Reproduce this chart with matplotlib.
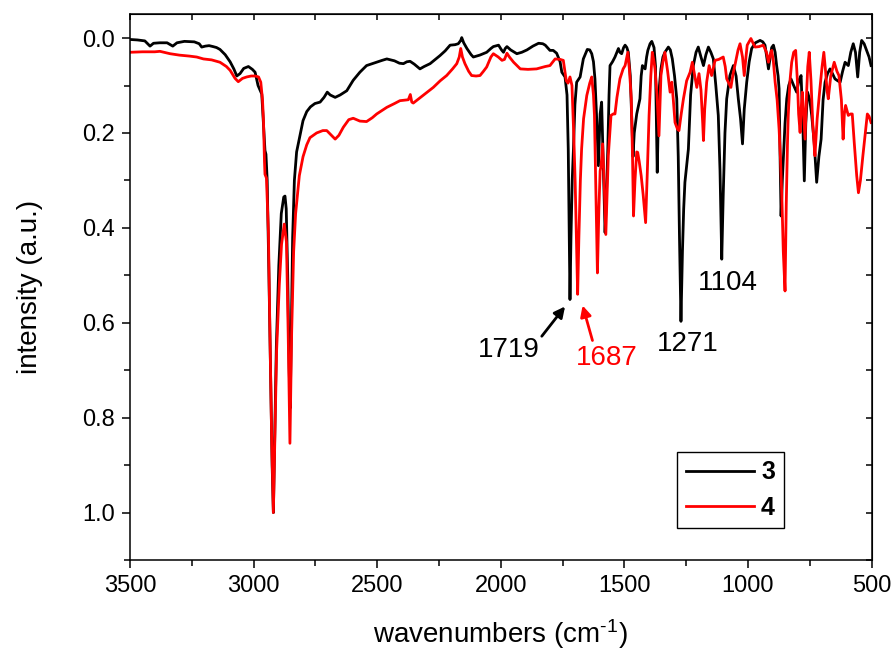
import matplotlib
matplotlib.use("Agg")
import matplotlib.pyplot as plt
from matplotlib.ticker import MultipleLocator

plt.rcParams['font.family'] = ['Liberation Sans', 'DejaVu Sans']
plt.rcParams['mathtext.fontset'] = 'custom'
plt.rcParams['mathtext.rm'] = 'Liberation Sans'
plt.rcParams['mathtext.default'] = 'regular'

# spectrum of compound 3 (black)
wn_3 = [3500, 3470, 3440, 3419, 3405, 3380, 3350, 3327, 3310, 3280, 3240, 3220, 3210, 3195,
        3180, 3164, 3150, 3136, 3115, 3095, 3080, 3068, 3055, 3040, 3021, 3005, 2994, 2982,
        2967, 2958, 2954, 2950, 2945, 2938, 2930, 2925, 2920, 2915, 2908, 2898, 2888, 2878,
        2873, 2868, 2862, 2856, 2852, 2847, 2842, 2835, 2826, 2810, 2800, 2785, 2770, 2752,
        2731, 2715, 2702, 2690, 2670, 2650, 2623, 2610, 2597, 2570, 2543, 2520, 2502, 2480,
        2461, 2430, 2410, 2394, 2380, 2367, 2350, 2327, 2310, 2286, 2265, 2246, 2225, 2205,
        2185, 2172, 2162, 2158, 2150, 2137, 2120, 2111, 2085, 2057, 2040, 2030, 2009, 1997,
        1989, 1982, 1975, 1960, 1935, 1915, 1894, 1870, 1847, 1830, 1820, 1801, 1788, 1774,
        1760, 1753, 1740, 1732, 1727, 1723, 1720, 1716, 1711, 1706, 1700, 1693, 1679, 1666,
        1650, 1640, 1632, 1625, 1619, 1612, 1605, 1598, 1592, 1586, 1578, 1572, 1567, 1562,
        1558, 1548, 1538, 1530, 1524, 1518, 1511, 1503, 1497, 1490, 1484, 1476, 1470, 1465,
        1460, 1450, 1442, 1437, 1432, 1427, 1416, 1410, 1405, 1396, 1389, 1380, 1374, 1370,
        1367, 1363, 1358, 1352, 1344, 1336, 1322, 1314, 1306, 1297, 1288, 1282, 1277, 1271,
        1265, 1260, 1255, 1248, 1241, 1232, 1221, 1210, 1201, 1190, 1180, 1170, 1160, 1150,
        1140, 1130, 1120, 1113, 1106, 1100, 1093, 1086, 1073, 1059, 1048, 1039, 1030, 1022,
        1015, 1005, 995, 985, 970, 951, 940, 931, 924, 917, 910, 904, 897, 890, 884, 878,
        874, 870, 866, 861, 857, 850, 843, 835, 826, 815, 803, 794, 785, 778, 772, 766, 759,
        750, 742, 732, 722, 713, 704, 696, 688, 678, 668, 658, 648, 637, 627, 617, 607, 600,
        594, 584, 574, 565, 556, 548, 540, 530, 520, 510, 502]
int_3 = [0.003, 0.004, 0.006, 0.017, 0.011, 0.010, 0.010, 0.017, 0.010, 0.007, 0.008, 0.012, 0.019, 0.017,
         0.016, 0.018, 0.020, 0.024, 0.035, 0.050, 0.065, 0.080, 0.075, 0.064, 0.060, 0.066, 0.072, 0.100,
         0.118, 0.200, 0.237, 0.245, 0.300, 0.500, 0.750, 0.900, 1.000, 0.850, 0.650, 0.480, 0.370, 0.335,
         0.333, 0.360, 0.500, 0.700, 0.780, 0.600, 0.420, 0.300, 0.240, 0.200, 0.174, 0.155, 0.145, 0.138,
         0.135, 0.125, 0.114, 0.120, 0.125, 0.120, 0.111, 0.100, 0.089, 0.072, 0.058, 0.054, 0.051, 0.047,
         0.044, 0.048, 0.053, 0.054, 0.050, 0.049, 0.055, 0.065, 0.060, 0.054, 0.045, 0.037, 0.027, 0.015,
         0.014, 0.012, 0.005, -0.001, 0.010, 0.022, 0.035, 0.040, 0.036, 0.030, 0.022, 0.018, 0.015, 0.025,
         0.030, 0.022, 0.018, 0.025, 0.033, 0.030, 0.025, 0.017, 0.011, 0.012, 0.015, 0.026, 0.026, 0.032,
         0.050, 0.072, 0.082, 0.120, 0.234, 0.420, 0.551, 0.420, 0.300, 0.234, 0.140, 0.093, 0.082, 0.044,
         0.024, 0.025, 0.033, 0.050, 0.086, 0.170, 0.269, 0.160, 0.135, 0.250, 0.410, 0.320, 0.234, 0.120,
         0.058, 0.050, 0.040, 0.030, 0.022, 0.030, 0.033, 0.020, 0.015, 0.020, 0.030, 0.080, 0.170, 0.250,
         0.200, 0.160, 0.140, 0.128, 0.080, 0.058, 0.065, 0.040, 0.026, 0.012, 0.007, 0.020, 0.060, 0.180,
         0.283, 0.180, 0.100, 0.065, 0.040, 0.030, 0.019, 0.025, 0.044, 0.080, 0.128, 0.250, 0.420, 0.597,
         0.450, 0.360, 0.304, 0.270, 0.234, 0.120, 0.058, 0.030, 0.019, 0.040, 0.058, 0.035, 0.019, 0.030,
         0.044, 0.100, 0.163, 0.280, 0.466, 0.330, 0.200, 0.128, 0.079, 0.058, 0.080, 0.128, 0.170, 0.223,
         0.150, 0.093, 0.050, 0.022, 0.010, 0.005, 0.008, 0.015, 0.040, 0.065, 0.040, 0.020, 0.015, 0.030, 0.058, 0.080,
         0.107, 0.250, 0.375, 0.300, 0.255, 0.180, 0.128, 0.100, 0.086, 0.100, 0.114, 0.090, 0.079, 0.180, 0.301, 0.180, 0.114,
         0.130, 0.163, 0.220, 0.304, 0.250, 0.213, 0.130, 0.093, 0.075, 0.065, 0.075, 0.086, 0.090, 0.093, 0.070, 0.051, 0.055,
         0.058, 0.030, 0.012, 0.030, 0.082, 0.030, 0.005, 0.012, 0.026, 0.040, 0.058]

# spectrum of compound 4 (red)
wn_4 = [3500, 3450, 3400, 3379, 3338, 3300, 3260, 3230, 3203, 3170, 3136, 3110, 3095, 3075,
        3062, 3045, 3028, 3010, 2994, 2980, 2971, 2964, 2960, 2956, 2954, 2948, 2940, 2934,
        2927, 2920, 2914, 2907, 2896, 2887, 2876, 2867, 2860, 2853, 2846, 2838, 2830, 2815,
        2800, 2785, 2772, 2745, 2720, 2704, 2685, 2670, 2655, 2637, 2615, 2597, 2570, 2543,
        2520, 2502, 2461, 2430, 2408, 2374, 2366, 2360, 2354, 2327, 2300, 2273, 2245, 2219,
        2195, 2178, 2168, 2162, 2155, 2145, 2130, 2118, 2100, 2084, 2070, 2057, 2040, 2030,
        2010, 1995, 1985, 1975, 1965, 1948, 1921, 1890, 1855, 1820, 1801, 1780, 1760, 1747,
        1735, 1728, 1720, 1712, 1705, 1699, 1693, 1689, 1684, 1678, 1673, 1665, 1652, 1640,
        1632, 1625, 1621, 1614, 1609, 1603, 1598, 1594, 1588, 1582, 1575, 1570, 1565, 1554,
        1545, 1538, 1530, 1518, 1505, 1497, 1486, 1479, 1472, 1467, 1463, 1457, 1450, 1446,
        1440, 1432, 1424, 1414, 1407, 1400, 1393, 1387, 1380, 1376, 1368, 1360, 1356, 1352,
        1344, 1336, 1325, 1315, 1308, 1302, 1295, 1285, 1279, 1270, 1261, 1248, 1234, 1225,
        1215, 1207, 1198, 1190, 1183, 1180, 1175, 1167, 1157, 1147, 1133, 1118, 1100, 1092,
        1086, 1069, 1060, 1053, 1040, 1032, 1022, 1015, 1008, 1003, 988, 980, 971, 955, 938,
        925, 917, 910, 904, 897, 890, 882, 874, 868, 863, 857, 850, 845, 840, 837, 830, 823,
        815, 807, 800, 795, 789, 785, 780, 775, 769, 763, 758, 752, 745, 738, 733, 729, 720,
        709, 700, 693, 686, 680, 675, 665, 651, 640, 632, 622, 615, 610, 605, 594, 585, 578,
        570, 560, 553, 545, 535, 525, 517, 510, 502]
int_4 = [0.030, 0.029, 0.029, 0.028, 0.033, 0.036, 0.038, 0.040, 0.044, 0.046, 0.051, 0.060, 0.068, 0.085,
         0.092, 0.085, 0.082, 0.080, 0.080, 0.082, 0.093, 0.130, 0.174, 0.260, 0.287, 0.295, 0.410, 0.620,
         0.840, 1.000, 0.840, 0.660, 0.520, 0.435, 0.392, 0.430, 0.625, 0.854, 0.620, 0.450, 0.370, 0.290,
         0.250, 0.225, 0.210, 0.200, 0.195, 0.195, 0.205, 0.213, 0.205, 0.188, 0.172, 0.169, 0.175, 0.176,
         0.168, 0.160, 0.146, 0.138, 0.132, 0.130, 0.119, 0.135, 0.137, 0.126, 0.115, 0.104, 0.090, 0.079,
         0.065, 0.054, 0.040, 0.022, 0.040, 0.054, 0.070, 0.079, 0.080, 0.079, 0.070, 0.061, 0.040, 0.033,
         0.040, 0.047, 0.045, 0.032, 0.040, 0.051, 0.065, 0.066, 0.065, 0.060, 0.058, 0.044, 0.045, 0.047,
         0.090, 0.095, 0.082, 0.100, 0.200, 0.304, 0.450, 0.540, 0.420, 0.300, 0.234, 0.170, 0.121, 0.095,
         0.082, 0.120, 0.163, 0.350, 0.495, 0.360, 0.280, 0.269, 0.223, 0.300, 0.414, 0.330, 0.248, 0.163,
         0.160, 0.160, 0.125, 0.086, 0.065, 0.058, 0.030, 0.070, 0.128, 0.250, 0.375, 0.300, 0.240, 0.241,
         0.260, 0.290, 0.330, 0.389, 0.280, 0.163, 0.080, 0.030, 0.050, 0.065, 0.120, 0.206, 0.140, 0.079,
         0.050, 0.030, 0.070, 0.114, 0.093, 0.130, 0.178, 0.192, 0.195, 0.160, 0.128, 0.090, 0.072, 0.051,
         0.080, 0.104, 0.075, 0.110, 0.180, 0.216, 0.150, 0.093, 0.058, 0.079, 0.047, 0.045, 0.040, 0.060,
         0.086, 0.104, 0.075, 0.058, 0.025, 0.012, 0.040, 0.079, 0.040, 0.015, 0.001, 0.010, 0.019, 0.018, 0.015,
         0.030, 0.051, 0.035, 0.026, 0.050, 0.093, 0.130, 0.192, 0.260, 0.333, 0.450, 0.533, 0.350, 0.220, 0.163, 0.090, 0.051,
         0.030, 0.026, 0.090, 0.160, 0.199, 0.150, 0.114, 0.160, 0.213, 0.120, 0.060, 0.030, 0.090, 0.178, 0.220, 0.248, 0.170,
         0.107, 0.060, 0.030, 0.070, 0.110, 0.128, 0.080, 0.051, 0.070, 0.079, 0.130, 0.213, 0.160, 0.142, 0.163, 0.160, 0.160,
         0.220, 0.290, 0.326, 0.300, 0.248, 0.200, 0.160, 0.165, 0.178]

fig = plt.figure(figsize=(8.96, 6.54), dpi=100)
ax = fig.add_axes([0.1451, 0.1437, 0.8276, 0.8344])

ax.plot(wn_3, int_3, color='black', lw=2.0, label='3')
ax.plot(wn_4, int_4, color='red', lw=2.0, label='4')

ax.set_xlim(3500, 500)
ax.set_ylim(1.1, -0.05)
ax.xaxis.set_major_locator(MultipleLocator(500))
ax.xaxis.set_minor_locator(MultipleLocator(250))
ax.yaxis.set_major_locator(MultipleLocator(0.2))
ax.yaxis.set_minor_locator(MultipleLocator(0.1))
ax.yaxis.set_major_formatter(plt.FormatStrFormatter('%.1f'))
ax.tick_params(which='major', direction='out', length=6, width=1.1, labelsize=17)
ax.tick_params(which='minor', direction='out', length=4, width=1.1)
ax.tick_params(axis='x', pad=5)
ax.tick_params(axis='y', pad=5)
for sp in ax.spines.values():
    sp.set_linewidth(1.1)

# mirrored inward ticks on top and right
top = ax.secondary_xaxis('top')
top.xaxis.set_major_locator(MultipleLocator(500))
top.xaxis.set_minor_locator(MultipleLocator(250))
top.tick_params(which='both', direction='in', length=4, width=1.1, labeltop=False)
right = ax.secondary_yaxis('right')
right.yaxis.set_major_locator(MultipleLocator(0.2))
right.yaxis.set_minor_locator(MultipleLocator(0.1))
right.tick_params(which='both', direction='in', length=4, width=1.1, labelright=False)

ax.set_xlabel(r'wavenumbers (cm$^{\text{-1}}$)', fontsize=20, labelpad=14)
ax.set_ylabel('intensity (a.u.)', fontsize=20, labelpad=28)

# peak labels
ax.text(1967, 0.658, '1719', fontsize=20, ha='center', va='center', color='black')
ax.annotate('', xy=(1733, 0.561), xytext=(1841, 0.633),
            arrowprops=dict(arrowstyle='-|>', color='black', lw=2.0, mutation_scale=16))
ax.text(1572, 0.674, '1687', fontsize=20, ha='center', va='center', color='red')
ax.annotate('', xy=(1672, 0.558), xytext=(1626, 0.643),
            arrowprops=dict(arrowstyle='-|>', color='red', lw=2.0, mutation_scale=16))
ax.text(1242, 0.645, '1271', fontsize=20, ha='center', va='center', color='black')
ax.text(1083, 0.516, '1104', fontsize=20, ha='center', va='center', color='black')

leg = ax.legend(loc='lower left', bbox_to_anchor=(0.738, 0.058), borderaxespad=0,
                prop={'weight': 'bold', 'size': 18}, handlelength=2.7, fancybox=False,
                edgecolor='black', framealpha=1, borderpad=0.35, labelspacing=0.45,
                handletextpad=0.3)
leg.get_frame().set_linewidth(1.0)
for h in leg.get_lines():
    h.set_linewidth(2.0)

fig.savefig('out.png', dpi=100)
